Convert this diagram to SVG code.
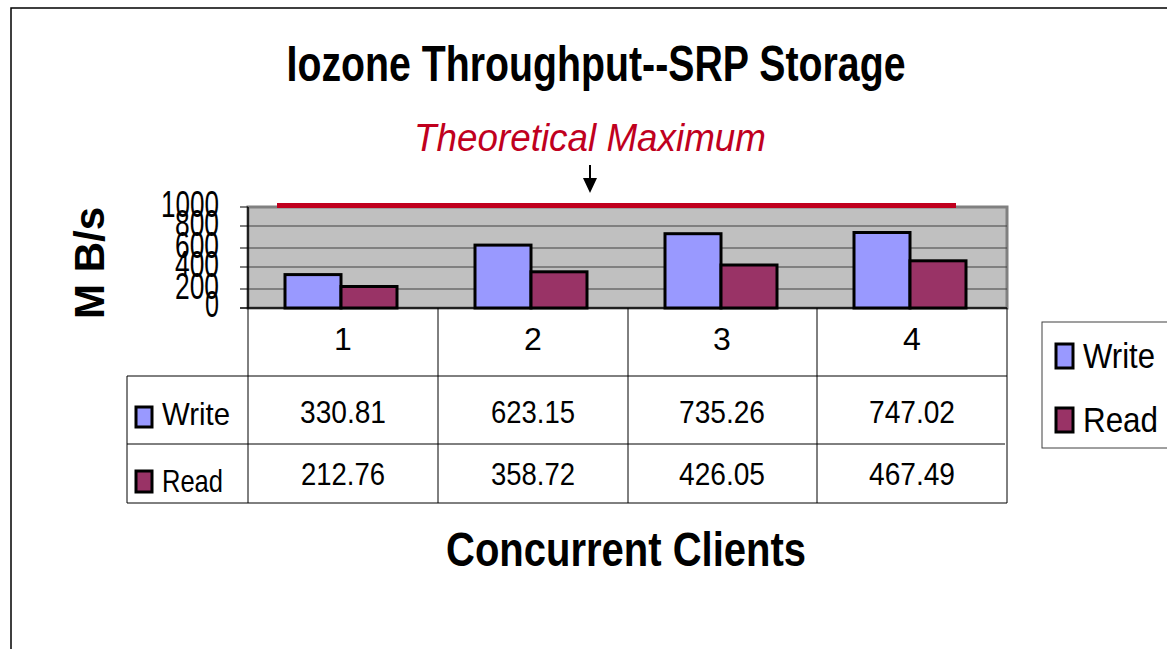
<svg xmlns="http://www.w3.org/2000/svg" width="1167" height="649" viewBox="0 0 1167 649">
<style>
text{font-family:"Liberation Sans",Arial,sans-serif;fill:#000}
.b{font-weight:bold}
.grid{stroke:#404040;stroke-width:1}
.tbl{stroke:#000;stroke-width:1;fill:none}
.w{fill:#9999FF;stroke:#000;stroke-width:3}
.r{fill:#993366;stroke:#000;stroke-width:3}
.ax{font-size:37px;text-anchor:end}
.v{font-size:32px;text-anchor:middle}
.lg{font-size:35px}
</style>
<rect width="1167" height="649" fill="#fff"/>
<rect x="11" y="8" width="1200" height="700" fill="none" stroke="#000" stroke-width="1.5"/>

<g id="title"><text class="b" x="596" y="81" font-size="50" text-anchor="middle" textLength="619" lengthAdjust="spacingAndGlyphs">Iozone Throughput--SRP Storage</text></g>

<g id="theoretical-label"><text x="590" y="151" font-size="38" font-style="italic" style="fill:#C0001E" text-anchor="middle" textLength="352" lengthAdjust="spacingAndGlyphs">Theoretical Maximum</text></g>

<g id="plot">
<rect x="248" y="207" width="759" height="101" fill="#C0C0C0" stroke="#808080" stroke-width="3"/>
<line class="grid" x1="248" y1="226" x2="1007" y2="226"/>
<line class="grid" x1="248" y1="248" x2="1007" y2="248"/>
<line class="grid" x1="248" y1="267" x2="1007" y2="267"/>
<line class="grid" x1="248" y1="289" x2="1007" y2="289"/>
<line x1="248" y1="207" x2="248" y2="308" stroke="#000" stroke-width="1.5"/>
<line x1="240" y1="308" x2="1007" y2="308" stroke="#000" stroke-width="1.5"/>
<g stroke="#000" stroke-width="1">
<line x1="240" y1="207" x2="248" y2="207"/>
<line x1="240" y1="226" x2="248" y2="226"/>
<line x1="240" y1="248" x2="248" y2="248"/>
<line x1="240" y1="267" x2="248" y2="267"/>
<line x1="240" y1="289" x2="248" y2="289"/>
</g>
</g>

<g id="y-axis-labels">
<text class="ax" x="219" y="217" textLength="58" lengthAdjust="spacingAndGlyphs">1000</text>
<text class="ax" x="219" y="236" textLength="44" lengthAdjust="spacingAndGlyphs">800</text>
<text class="ax" x="219" y="258" textLength="44" lengthAdjust="spacingAndGlyphs">600</text>
<text class="ax" x="219" y="277" textLength="44" lengthAdjust="spacingAndGlyphs">400</text>
<text class="ax" x="219" y="299" textLength="44" lengthAdjust="spacingAndGlyphs">200</text>
<text class="ax" x="219" y="317" textLength="14" lengthAdjust="spacingAndGlyphs">0</text>
</g>

<g id="y-axis-title"><text class="b" transform="translate(104,263) rotate(-90)" font-size="42" text-anchor="middle" textLength="112" lengthAdjust="spacingAndGlyphs">M B/s</text></g>

<g id="bars-write">
<rect class="w" x="285" y="274.6" width="56" height="33.4"/>
<rect class="w" x="475" y="245.1" width="56" height="62.9"/>
<rect class="w" x="665" y="233.7" width="56" height="74.3"/>
<rect class="w" x="854" y="232.5" width="56" height="75.5"/>
</g>
<g id="bars-read">
<rect class="r" x="341" y="286.5" width="56" height="21.5"/>
<rect class="r" x="531" y="271.8" width="56" height="36.2"/>
<rect class="r" x="721" y="265" width="56" height="43"/>
<rect class="r" x="910" y="260.8" width="56" height="47.2"/>
</g>

<g id="connectors">
<line x1="277" y1="205.5" x2="956" y2="205.5" stroke="#C0001E" stroke-width="5"/>
<line x1="590" y1="165" x2="590" y2="180" stroke="#000" stroke-width="2"/>
<polygon points="583,178 597,178 590,193" fill="#000"/>
</g>

<g id="data-table">
<line class="tbl" x1="248" y1="308" x2="248" y2="503"/>
<line class="tbl" x1="438" y1="308" x2="438" y2="503"/>
<line class="tbl" x1="628" y1="308" x2="628" y2="503"/>
<line class="tbl" x1="817" y1="308" x2="817" y2="503"/>
<line class="tbl" x1="1007" y1="308" x2="1007" y2="503"/>
<line class="tbl" x1="127" y1="376" x2="1007" y2="376"/>
<line class="tbl" x1="127" y1="444" x2="1005" y2="444"/>
<line class="tbl" x1="127" y1="503" x2="1007" y2="503"/>
<line class="tbl" x1="127" y1="376" x2="127" y2="503"/>
<text class="v" x="343" y="350">1</text>
<text class="v" x="533" y="350">2</text>
<text class="v" x="722" y="350">3</text>
<text class="v" x="912" y="350">4</text>
<rect class="w" x="136" y="407" width="16" height="20"/>
<text x="162" y="425" font-size="32" textLength="68" lengthAdjust="spacingAndGlyphs">Write</text>
<rect class="r" x="136" y="471" width="16" height="21"/>
<text x="162" y="492" font-size="32" textLength="61" lengthAdjust="spacingAndGlyphs">Read</text>
<text class="v" x="343" y="423" textLength="86" lengthAdjust="spacingAndGlyphs">330.81</text>
<text class="v" x="533" y="423" textLength="84" lengthAdjust="spacingAndGlyphs">623.15</text>
<text class="v" x="722" y="423" textLength="86" lengthAdjust="spacingAndGlyphs">735.26</text>
<text class="v" x="912" y="423" textLength="86" lengthAdjust="spacingAndGlyphs">747.02</text>
<text class="v" x="343" y="485" textLength="84" lengthAdjust="spacingAndGlyphs">212.76</text>
<text class="v" x="533" y="485" textLength="84" lengthAdjust="spacingAndGlyphs">358.72</text>
<text class="v" x="722" y="485" textLength="86" lengthAdjust="spacingAndGlyphs">426.05</text>
<text class="v" x="912" y="485" textLength="86" lengthAdjust="spacingAndGlyphs">467.49</text>
</g>

<g id="x-axis-title"><text class="b" x="626" y="566" font-size="48" text-anchor="middle" textLength="360" lengthAdjust="spacingAndGlyphs">Concurrent Clients</text></g>

<g id="legend">
<rect x="1042" y="322" width="140" height="126" fill="#fff" stroke="#404040" stroke-width="1"/>
<rect class="w" x="1056" y="344" width="17" height="24"/>
<text class="lg" x="1083" y="368" textLength="72" lengthAdjust="spacingAndGlyphs">Write</text>
<rect class="r" x="1056" y="408" width="17" height="24"/>
<text class="lg" x="1083" y="432" textLength="75" lengthAdjust="spacingAndGlyphs">Read</text>
</g>
</svg>
